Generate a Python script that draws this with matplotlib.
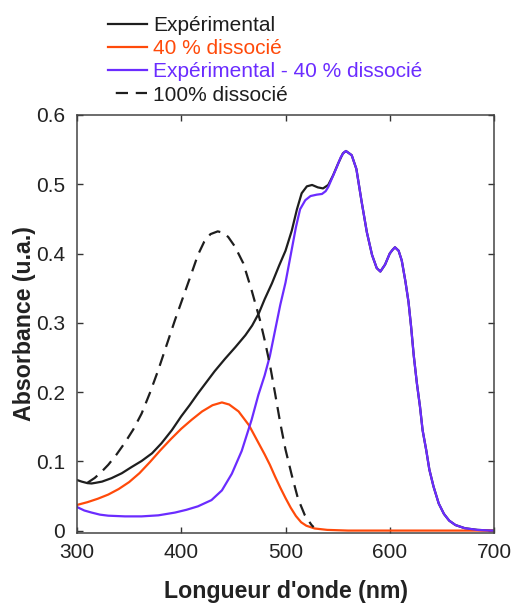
import matplotlib
matplotlib.use("Agg")
import matplotlib.pyplot as plt

plt.rcParams['font.family'] = ['Liberation Sans', 'DejaVu Sans']

# Experimental
wl_exp = [300, 304.5, 310, 314, 318, 324, 333, 343, 352, 362, 372, 381, 391, 400, 408, 416, 424, 432,
          442, 452, 461.5, 468, 474.5, 480, 487, 494, 500, 506, 511, 515.5, 520.5, 525.5, 531,
          536, 541, 545.7, 550.5, 555, 558,
          563.5, 568, 573, 578, 583, 587.5, 591, 595.5, 600, 602.5, 605, 608.5, 611.5, 615, 618,
          620.5, 623, 626, 629, 631.5, 635, 638, 642, 647, 652, 657, 663, 672, 684, 697, 700]
abs_exp = [0.073, 0.0707, 0.0685, 0.068, 0.069, 0.0707, 0.0756, 0.0828, 0.0914, 0.1005, 0.1116, 0.126,
           0.145, 0.165, 0.181, 0.198, 0.214, 0.230,
           0.248, 0.265, 0.282, 0.296, 0.314, 0.334, 0.357, 0.383, 0.404, 0.433, 0.464, 0.487,
           0.497, 0.499, 0.4955,
           0.494, 0.499, 0.513, 0.530, 0.5445, 0.548,
           0.542, 0.522, 0.475, 0.431, 0.398, 0.379, 0.374, 0.384, 0.400, 0.405, 0.409, 0.404, 0.390,
           0.360, 0.330,
           0.294, 0.253, 0.213, 0.179, 0.145, 0.116, 0.088, 0.0635, 0.039, 0.024, 0.0144, 0.008,
           0.0034, 0.001, 0.0, 0.0]

# 40 % dissocie
wl_40 = [300, 310, 320, 330, 340, 350, 360, 370, 380, 390, 400, 410, 420, 430, 439, 446,
         455, 465, 470, 475, 480, 485, 490, 495, 500, 505, 510, 515, 520, 528, 540, 560, 600, 650, 700]
abs_40 = [0.037, 0.041, 0.046, 0.052, 0.060, 0.070, 0.083, 0.099, 0.116, 0.132, 0.147, 0.160,
          0.172, 0.181, 0.185, 0.182,
          0.172, 0.152, 0.138, 0.124, 0.110, 0.095, 0.078, 0.062, 0.047, 0.033, 0.021, 0.012, 0.007,
          0.003, 0.001, 0.0, 0.0, 0.0, 0.0]

# Experimental - 40 % dissocie
wl_diff = [300, 307, 314, 322, 330, 346, 362, 378, 394, 405, 416, 429, 439, 448.5, 458, 467.5, 474,
           480, 485, 490, 495, 500, 505, 510, 514, 519, 524, 530, 535, 538.5, 541, 545, 549.5, 553,
           556, 558,
           563.5, 568, 573, 578, 583, 587.5, 591, 595.5, 600, 602.5, 605, 608.5, 611.5, 615, 618,
           620.5, 623, 626, 629, 631.5, 635, 638, 642, 647, 652, 657, 663, 672, 684, 697, 700]
abs_diff = [0.034, 0.029, 0.026, 0.023, 0.0215, 0.0205, 0.0205, 0.022, 0.026, 0.030, 0.035, 0.044,
            0.058, 0.082, 0.115, 0.160, 0.196,
            0.224, 0.252, 0.289, 0.326, 0.358, 0.398, 0.438, 0.464, 0.477, 0.483, 0.485, 0.486,
            0.490, 0.496, 0.510, 0.526, 0.539,
            0.546, 0.548,
            0.542, 0.522, 0.475, 0.431, 0.398, 0.379, 0.374, 0.384, 0.400, 0.405, 0.409, 0.404, 0.390,
            0.360, 0.330,
            0.294, 0.253, 0.213, 0.179, 0.145, 0.116, 0.088, 0.0635, 0.039, 0.024, 0.0144, 0.008,
            0.0034, 0.001, 0.0, 0.0]

# 100 % dissocie
wl_100 = [303, 310, 317, 323, 330, 338, 346, 354, 362, 370, 378, 386, 394, 402, 410, 416, 422,
          428, 435, 440, 445, 451.5, 459.5, 467.5, 475.5, 480, 485, 490, 495, 500, 506, 512, 518.6,
          525, 527]
abs_100 = [0.065, 0.069, 0.076, 0.084, 0.095, 0.110, 0.127, 0.146, 0.169, 0.199, 0.232, 0.268, 0.304,
           0.338, 0.372, 0.398, 0.417,
           0.428, 0.432, 0.430, 0.424, 0.410, 0.386, 0.347, 0.304, 0.275, 0.240, 0.198, 0.155, 0.117,
           0.080, 0.046, 0.022,
           0.008, 0.005]

x_ticks = [300, 400, 500, 600, 700]
y_ticks = [0, 0.1, 0.2, 0.3, 0.4, 0.5, 0.6]
y_ticklabels = ['0', '0.1', '0.2', '0.3', '0.4', '0.5', '0.6']

labels = ['Expérimental', '40 % dissocié', 'Expérimental - 40 % dissocié', '100% dissocié']
c_black = '#1e1e1e'
c_orange = '#ff4a0a'
c_purple = '#6b2cff'
txt = '#222222'

fig = plt.figure(figsize=(5.14, 6.06), dpi=100)
ax = fig.add_axes([77/514, 1-533/606, 417/514, 418/606])

ax.plot(wl_exp, abs_exp, color=c_black, lw=1.6, label=labels[0])
ax.plot(wl_40, abs_40, color=c_orange, lw=1.6, label=labels[1])
ax.plot(wl_diff, abs_diff, color=c_purple, lw=1.6, label=labels[2])
ax.plot(wl_100, abs_100, color=c_black, lw=1.6, ls=(5.5, (5.5, 3.5)), label=labels[3])

ax.set_xlim(300, 700)
ax.set_ylim(-0.0035, 0.6)
ax.set_xticks(x_ticks)
ax.set_yticks(y_ticks)
ax.set_yticklabels(y_ticklabels)
ax.tick_params(direction='in', length=4, width=1, top=True, right=True,
               labelsize=15, colors='#333333', labelcolor=txt)
ax.tick_params(axis='x', pad=7)
ax.tick_params(axis='y', pad=8.5)
for s in ax.spines.values():
    s.set_color('#444444')
    s.set_linewidth(1.1)

ax.set_xlabel("Longueur d'onde (nm)", fontsize=16.7, fontweight='bold', color=txt, labelpad=13)
ax.set_ylabel("Absorbance (u.a.)", fontsize=16.7, fontweight='bold', color=txt, labelpad=0)

leg = ax.legend(loc='lower left', bbox_to_anchor=(0.074, 1.025), frameon=False,
                fontsize=15, borderpad=0, borderaxespad=0, handlelength=1.875,
                handletextpad=0.29, labelspacing=0.2, labelcolor='linecolor')

fig.savefig('out.png', dpi=100)
